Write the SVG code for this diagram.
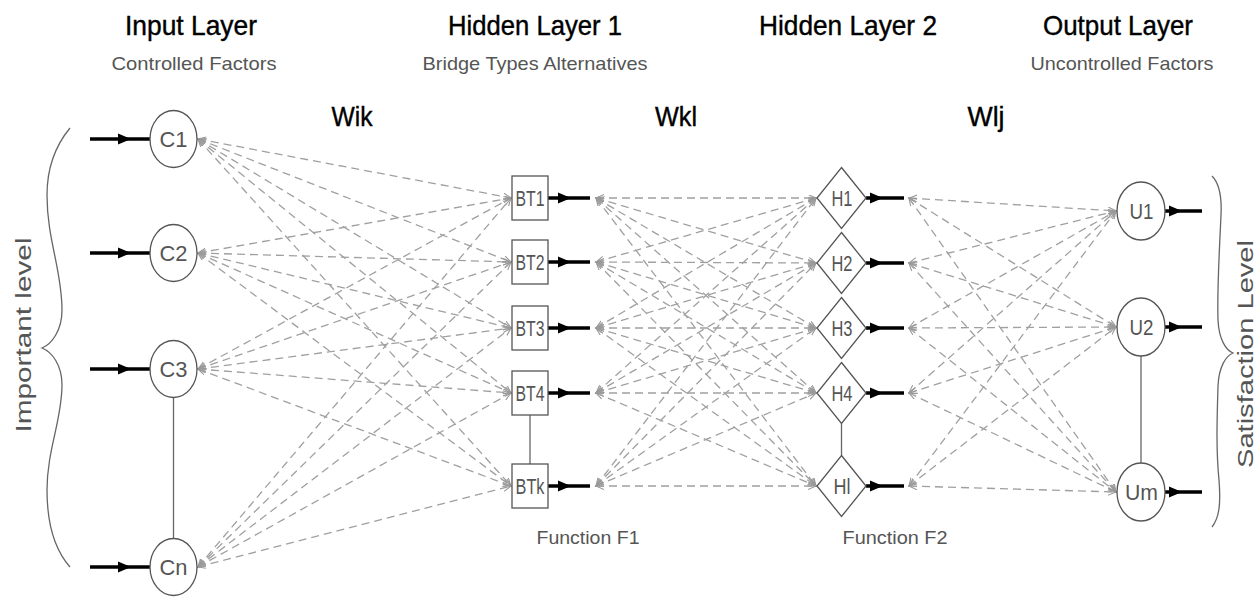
<svg xmlns="http://www.w3.org/2000/svg" width="1260" height="602" viewBox="0 0 1260 602">
<defs>
<marker id="oa" markerUnits="userSpaceOnUse" markerWidth="10" markerHeight="8" refX="8" refY="3.5" orient="auto-start-reverse" viewBox="0 0 10 8">
<path d="M0,0 L8,3.5 L0,7" fill="none" stroke="#999" stroke-width="1.1"/>
</marker>
<path id="ah" d="M-6,-5.5 L7,0 L-6,5.5 Z" fill="#000"/>
</defs>
<style>
.hd{font-family:"Liberation Sans",Arial,sans-serif;font-size:28px;fill:#000;stroke:#000;stroke-width:0.4;text-anchor:middle}
.sub{font-family:"Liberation Sans",Arial,sans-serif;font-size:19px;fill:#555;text-anchor:middle}
.w{font-family:"Liberation Sans",Arial,sans-serif;font-size:27px;fill:#000;stroke:#000;stroke-width:0.4;text-anchor:middle}
.lb{font-family:"Liberation Sans",Arial,sans-serif;font-size:22px;fill:#555;text-anchor:middle}
.nd{fill:#fff;stroke:#555;stroke-width:1.3}
.vl{stroke:#666;stroke-width:1.3}
.th{stroke:#000;stroke-width:3.5}
.dl{stroke:#a0a0a0;stroke-width:1.3;stroke-dasharray:8 5;fill:none;marker-start:url(#oa);marker-end:url(#oa)}
.br{fill:none;stroke:#666;stroke-width:1.3}
.rt{font-family:"Liberation Sans",Arial,sans-serif;font-size:22px;fill:#555;text-anchor:middle}
</style>
<rect width="1260" height="602" fill="#fff"/>

<g id="titles">
<text class="hd" x="191" y="35" textLength="132" lengthAdjust="spacingAndGlyphs">Input Layer</text>
<text class="sub" x="194" y="70" textLength="165" lengthAdjust="spacingAndGlyphs">Controlled Factors</text>
<text class="hd" x="535" y="35" textLength="174" lengthAdjust="spacingAndGlyphs">Hidden Layer 1</text>
<text class="sub" x="535" y="70" textLength="225" lengthAdjust="spacingAndGlyphs">Bridge Types Alternatives</text>
<text class="hd" x="848" y="35" textLength="178" lengthAdjust="spacingAndGlyphs">Hidden Layer 2</text>
<text class="hd" x="1118" y="35" textLength="150" lengthAdjust="spacingAndGlyphs">Output Layer</text>
<text class="sub" x="1122" y="70" textLength="183" lengthAdjust="spacingAndGlyphs">Uncontrolled Factors</text>
<text class="w" x="352" y="126" textLength="41" lengthAdjust="spacingAndGlyphs">Wik</text>
<text class="w" x="676" y="126" textLength="42" lengthAdjust="spacingAndGlyphs">Wkl</text>
<text class="w" x="986" y="126" textLength="37" lengthAdjust="spacingAndGlyphs">Wlj</text>
<text class="sub" x="588" y="544" textLength="103" lengthAdjust="spacingAndGlyphs">Function F1</text>
<text class="sub" x="895" y="544" textLength="105" lengthAdjust="spacingAndGlyphs">Function F2</text>
</g>

<g id="braces">
<path class="br" d="M70,128 C56,145 47,165 47,195 C47,240 62,270 62,310 C62,330 52,344 42,348 C52,352 62,365 62,385 C62,420 47,450 47,490 C47,525 55,550 70,567"/>
<text class="rt" transform="translate(31,335) rotate(-90)" textLength="195" lengthAdjust="spacingAndGlyphs">Important level</text>
<path class="br" d="M1212,176 C1219,183 1222,195 1221,215 C1219,260 1217,290 1218,320 C1219,340 1226,350 1233,353 C1226,356 1219,366 1218,386 C1217,420 1216,450 1219,480 C1221,505 1219,518 1212,527"/>
<text class="rt" transform="translate(1253,354) rotate(-90)" textLength="228" lengthAdjust="spacingAndGlyphs">Satisfaction Level</text>
</g>

<g id="connectors">
<line class="dl" x1="198" y1="139" x2="511" y2="198"/>
<line class="dl" x1="198" y1="139" x2="511" y2="262"/>
<line class="dl" x1="198" y1="139" x2="511" y2="328"/>
<line class="dl" x1="198" y1="139" x2="511" y2="393"/>
<line class="dl" x1="198" y1="139" x2="511" y2="486"/>
<line class="dl" x1="198" y1="253" x2="511" y2="198"/>
<line class="dl" x1="198" y1="253" x2="511" y2="262"/>
<line class="dl" x1="198" y1="253" x2="511" y2="328"/>
<line class="dl" x1="198" y1="253" x2="511" y2="393"/>
<line class="dl" x1="198" y1="253" x2="511" y2="486"/>
<line class="dl" x1="198" y1="369" x2="511" y2="198"/>
<line class="dl" x1="198" y1="369" x2="511" y2="262"/>
<line class="dl" x1="198" y1="369" x2="511" y2="328"/>
<line class="dl" x1="198" y1="369" x2="511" y2="393"/>
<line class="dl" x1="198" y1="369" x2="511" y2="486"/>
<line class="dl" x1="198" y1="567" x2="511" y2="198"/>
<line class="dl" x1="198" y1="567" x2="511" y2="262"/>
<line class="dl" x1="198" y1="567" x2="511" y2="328"/>
<line class="dl" x1="198" y1="567" x2="511" y2="393"/>
<line class="dl" x1="198" y1="567" x2="511" y2="486"/>
<line class="dl" x1="596" y1="198" x2="816" y2="198"/>
<line class="dl" x1="596" y1="198" x2="816" y2="263"/>
<line class="dl" x1="596" y1="198" x2="816" y2="328"/>
<line class="dl" x1="596" y1="198" x2="816" y2="393"/>
<line class="dl" x1="596" y1="198" x2="816" y2="486"/>
<line class="dl" x1="596" y1="262" x2="816" y2="198"/>
<line class="dl" x1="596" y1="262" x2="816" y2="263"/>
<line class="dl" x1="596" y1="262" x2="816" y2="328"/>
<line class="dl" x1="596" y1="262" x2="816" y2="393"/>
<line class="dl" x1="596" y1="262" x2="816" y2="486"/>
<line class="dl" x1="596" y1="328" x2="816" y2="198"/>
<line class="dl" x1="596" y1="328" x2="816" y2="263"/>
<line class="dl" x1="596" y1="328" x2="816" y2="328"/>
<line class="dl" x1="596" y1="328" x2="816" y2="393"/>
<line class="dl" x1="596" y1="328" x2="816" y2="486"/>
<line class="dl" x1="596" y1="393" x2="816" y2="198"/>
<line class="dl" x1="596" y1="393" x2="816" y2="263"/>
<line class="dl" x1="596" y1="393" x2="816" y2="328"/>
<line class="dl" x1="596" y1="393" x2="816" y2="393"/>
<line class="dl" x1="596" y1="393" x2="816" y2="486"/>
<line class="dl" x1="596" y1="486" x2="816" y2="198"/>
<line class="dl" x1="596" y1="486" x2="816" y2="263"/>
<line class="dl" x1="596" y1="486" x2="816" y2="328"/>
<line class="dl" x1="596" y1="486" x2="816" y2="393"/>
<line class="dl" x1="596" y1="486" x2="816" y2="486"/>
<line class="dl" x1="909" y1="198" x2="1116" y2="211"/>
<line class="dl" x1="909" y1="198" x2="1116" y2="327"/>
<line class="dl" x1="909" y1="198" x2="1116" y2="492"/>
<line class="dl" x1="909" y1="263" x2="1116" y2="211"/>
<line class="dl" x1="909" y1="263" x2="1116" y2="327"/>
<line class="dl" x1="909" y1="263" x2="1116" y2="492"/>
<line class="dl" x1="909" y1="328" x2="1116" y2="211"/>
<line class="dl" x1="909" y1="328" x2="1116" y2="327"/>
<line class="dl" x1="909" y1="328" x2="1116" y2="492"/>
<line class="dl" x1="909" y1="393" x2="1116" y2="211"/>
<line class="dl" x1="909" y1="393" x2="1116" y2="327"/>
<line class="dl" x1="909" y1="393" x2="1116" y2="492"/>
<line class="dl" x1="909" y1="486" x2="1116" y2="211"/>
<line class="dl" x1="909" y1="486" x2="1116" y2="327"/>
<line class="dl" x1="909" y1="486" x2="1116" y2="492"/>
<line class="vl" x1="173.5" y1="397.5" x2="173.5" y2="538.5"/>
<line class="vl" x1="530" y1="415" x2="530" y2="464"/>
<line class="vl" x1="841.5" y1="423.5" x2="841.5" y2="455.5"/>
<line class="vl" x1="1141" y1="356" x2="1141" y2="463"/>
<line class="th" x1="90" y1="139" x2="150" y2="139"/><use href="#ah" x="124" y="139"/>
<line class="th" x1="90" y1="253" x2="150" y2="253"/><use href="#ah" x="124" y="253"/>
<line class="th" x1="90" y1="369" x2="150" y2="369"/><use href="#ah" x="124" y="369"/>
<line class="th" x1="90" y1="567" x2="150" y2="567"/><use href="#ah" x="124" y="567"/>
<line class="th" x1="548" y1="198" x2="590" y2="198"/><use href="#ah" x="564" y="198"/>
<line class="th" x1="548" y1="262" x2="590" y2="262"/><use href="#ah" x="564" y="262"/>
<line class="th" x1="548" y1="328" x2="590" y2="328"/><use href="#ah" x="564" y="328"/>
<line class="th" x1="548" y1="393" x2="590" y2="393"/><use href="#ah" x="564" y="393"/>
<line class="th" x1="548" y1="486" x2="590" y2="486"/><use href="#ah" x="564" y="486"/>
<line class="th" x1="866" y1="198" x2="904" y2="198"/><use href="#ah" x="876" y="198"/>
<line class="th" x1="866" y1="263" x2="904" y2="263"/><use href="#ah" x="876" y="263"/>
<line class="th" x1="866" y1="328" x2="904" y2="328"/><use href="#ah" x="876" y="328"/>
<line class="th" x1="866" y1="393" x2="904" y2="393"/><use href="#ah" x="876" y="393"/>
<line class="th" x1="866" y1="486" x2="904" y2="486"/><use href="#ah" x="876" y="486"/>
<line class="th" x1="1165" y1="211" x2="1202" y2="211"/><use href="#ah" x="1175" y="211"/>
<line class="th" x1="1165" y1="327" x2="1202" y2="327"/><use href="#ah" x="1175" y="327"/>
<line class="th" x1="1165" y1="492" x2="1202" y2="492"/><use href="#ah" x="1175" y="492"/>
</g>

<g id="C1"><ellipse class="nd" cx="173.5" cy="139" rx="23.5" ry="28.5"/><text class="lb" x="173.5" y="147" textLength="28" lengthAdjust="spacingAndGlyphs">C1</text></g>
<g id="C2"><ellipse class="nd" cx="173.5" cy="253" rx="23.5" ry="28.5"/><text class="lb" x="173.5" y="261" textLength="28" lengthAdjust="spacingAndGlyphs">C2</text></g>
<g id="C3"><ellipse class="nd" cx="173.5" cy="369" rx="23.5" ry="28.5"/><text class="lb" x="173.5" y="377" textLength="28" lengthAdjust="spacingAndGlyphs">C3</text></g>
<g id="Cn"><ellipse class="nd" cx="173.5" cy="567" rx="23.5" ry="28.5"/><text class="lb" x="173.5" y="575" textLength="28" lengthAdjust="spacingAndGlyphs">Cn</text></g>

<g id="BT1"><rect class="nd" x="512" y="176" width="36" height="44"/><text class="lb" x="530" y="206" textLength="29" lengthAdjust="spacingAndGlyphs">BT1</text></g>
<g id="BT2"><rect class="nd" x="512" y="240" width="36" height="44"/><text class="lb" x="530" y="270" textLength="29" lengthAdjust="spacingAndGlyphs">BT2</text></g>
<g id="BT3"><rect class="nd" x="512" y="306" width="36" height="44"/><text class="lb" x="530" y="336" textLength="29" lengthAdjust="spacingAndGlyphs">BT3</text></g>
<g id="BT4"><rect class="nd" x="512" y="371" width="36" height="44"/><text class="lb" x="530" y="401" textLength="29" lengthAdjust="spacingAndGlyphs">BT4</text></g>
<g id="BTk"><rect class="nd" x="512" y="464" width="36" height="44"/><text class="lb" x="530" y="494" textLength="29" lengthAdjust="spacingAndGlyphs">BTk</text></g>

<g id="H1"><path class="nd" d="M841.5,167.5 L866,198 L841.5,228.5 L817,198 Z"/><text class="lb" x="842" y="206" textLength="21" lengthAdjust="spacingAndGlyphs">H1</text></g>
<g id="H2"><path class="nd" d="M841.5,232.5 L866,263 L841.5,293.5 L817,263 Z"/><text class="lb" x="842" y="271" textLength="21" lengthAdjust="spacingAndGlyphs">H2</text></g>
<g id="H3"><path class="nd" d="M841.5,297.5 L866,328 L841.5,358.5 L817,328 Z"/><text class="lb" x="842" y="336" textLength="21" lengthAdjust="spacingAndGlyphs">H3</text></g>
<g id="H4"><path class="nd" d="M841.5,362.5 L866,393 L841.5,423.5 L817,393 Z"/><text class="lb" x="842" y="401" textLength="21" lengthAdjust="spacingAndGlyphs">H4</text></g>
<g id="Hl"><path class="nd" d="M841.5,455.5 L866,486 L841.5,516.5 L817,486 Z"/><text class="lb" x="842" y="494" textLength="17" lengthAdjust="spacingAndGlyphs">Hl</text></g>

<g id="U1"><ellipse class="nd" cx="1141" cy="211" rx="24" ry="29"/><text class="lb" x="1141.5" y="219" textLength="24" lengthAdjust="spacingAndGlyphs">U1</text></g>
<g id="U2"><ellipse class="nd" cx="1141" cy="327" rx="24" ry="29"/><text class="lb" x="1141.5" y="335" textLength="24" lengthAdjust="spacingAndGlyphs">U2</text></g>
<g id="Um"><ellipse class="nd" cx="1141" cy="492" rx="24" ry="29"/><text class="lb" x="1141.5" y="500" textLength="33" lengthAdjust="spacingAndGlyphs">Um</text></g>
</svg>
